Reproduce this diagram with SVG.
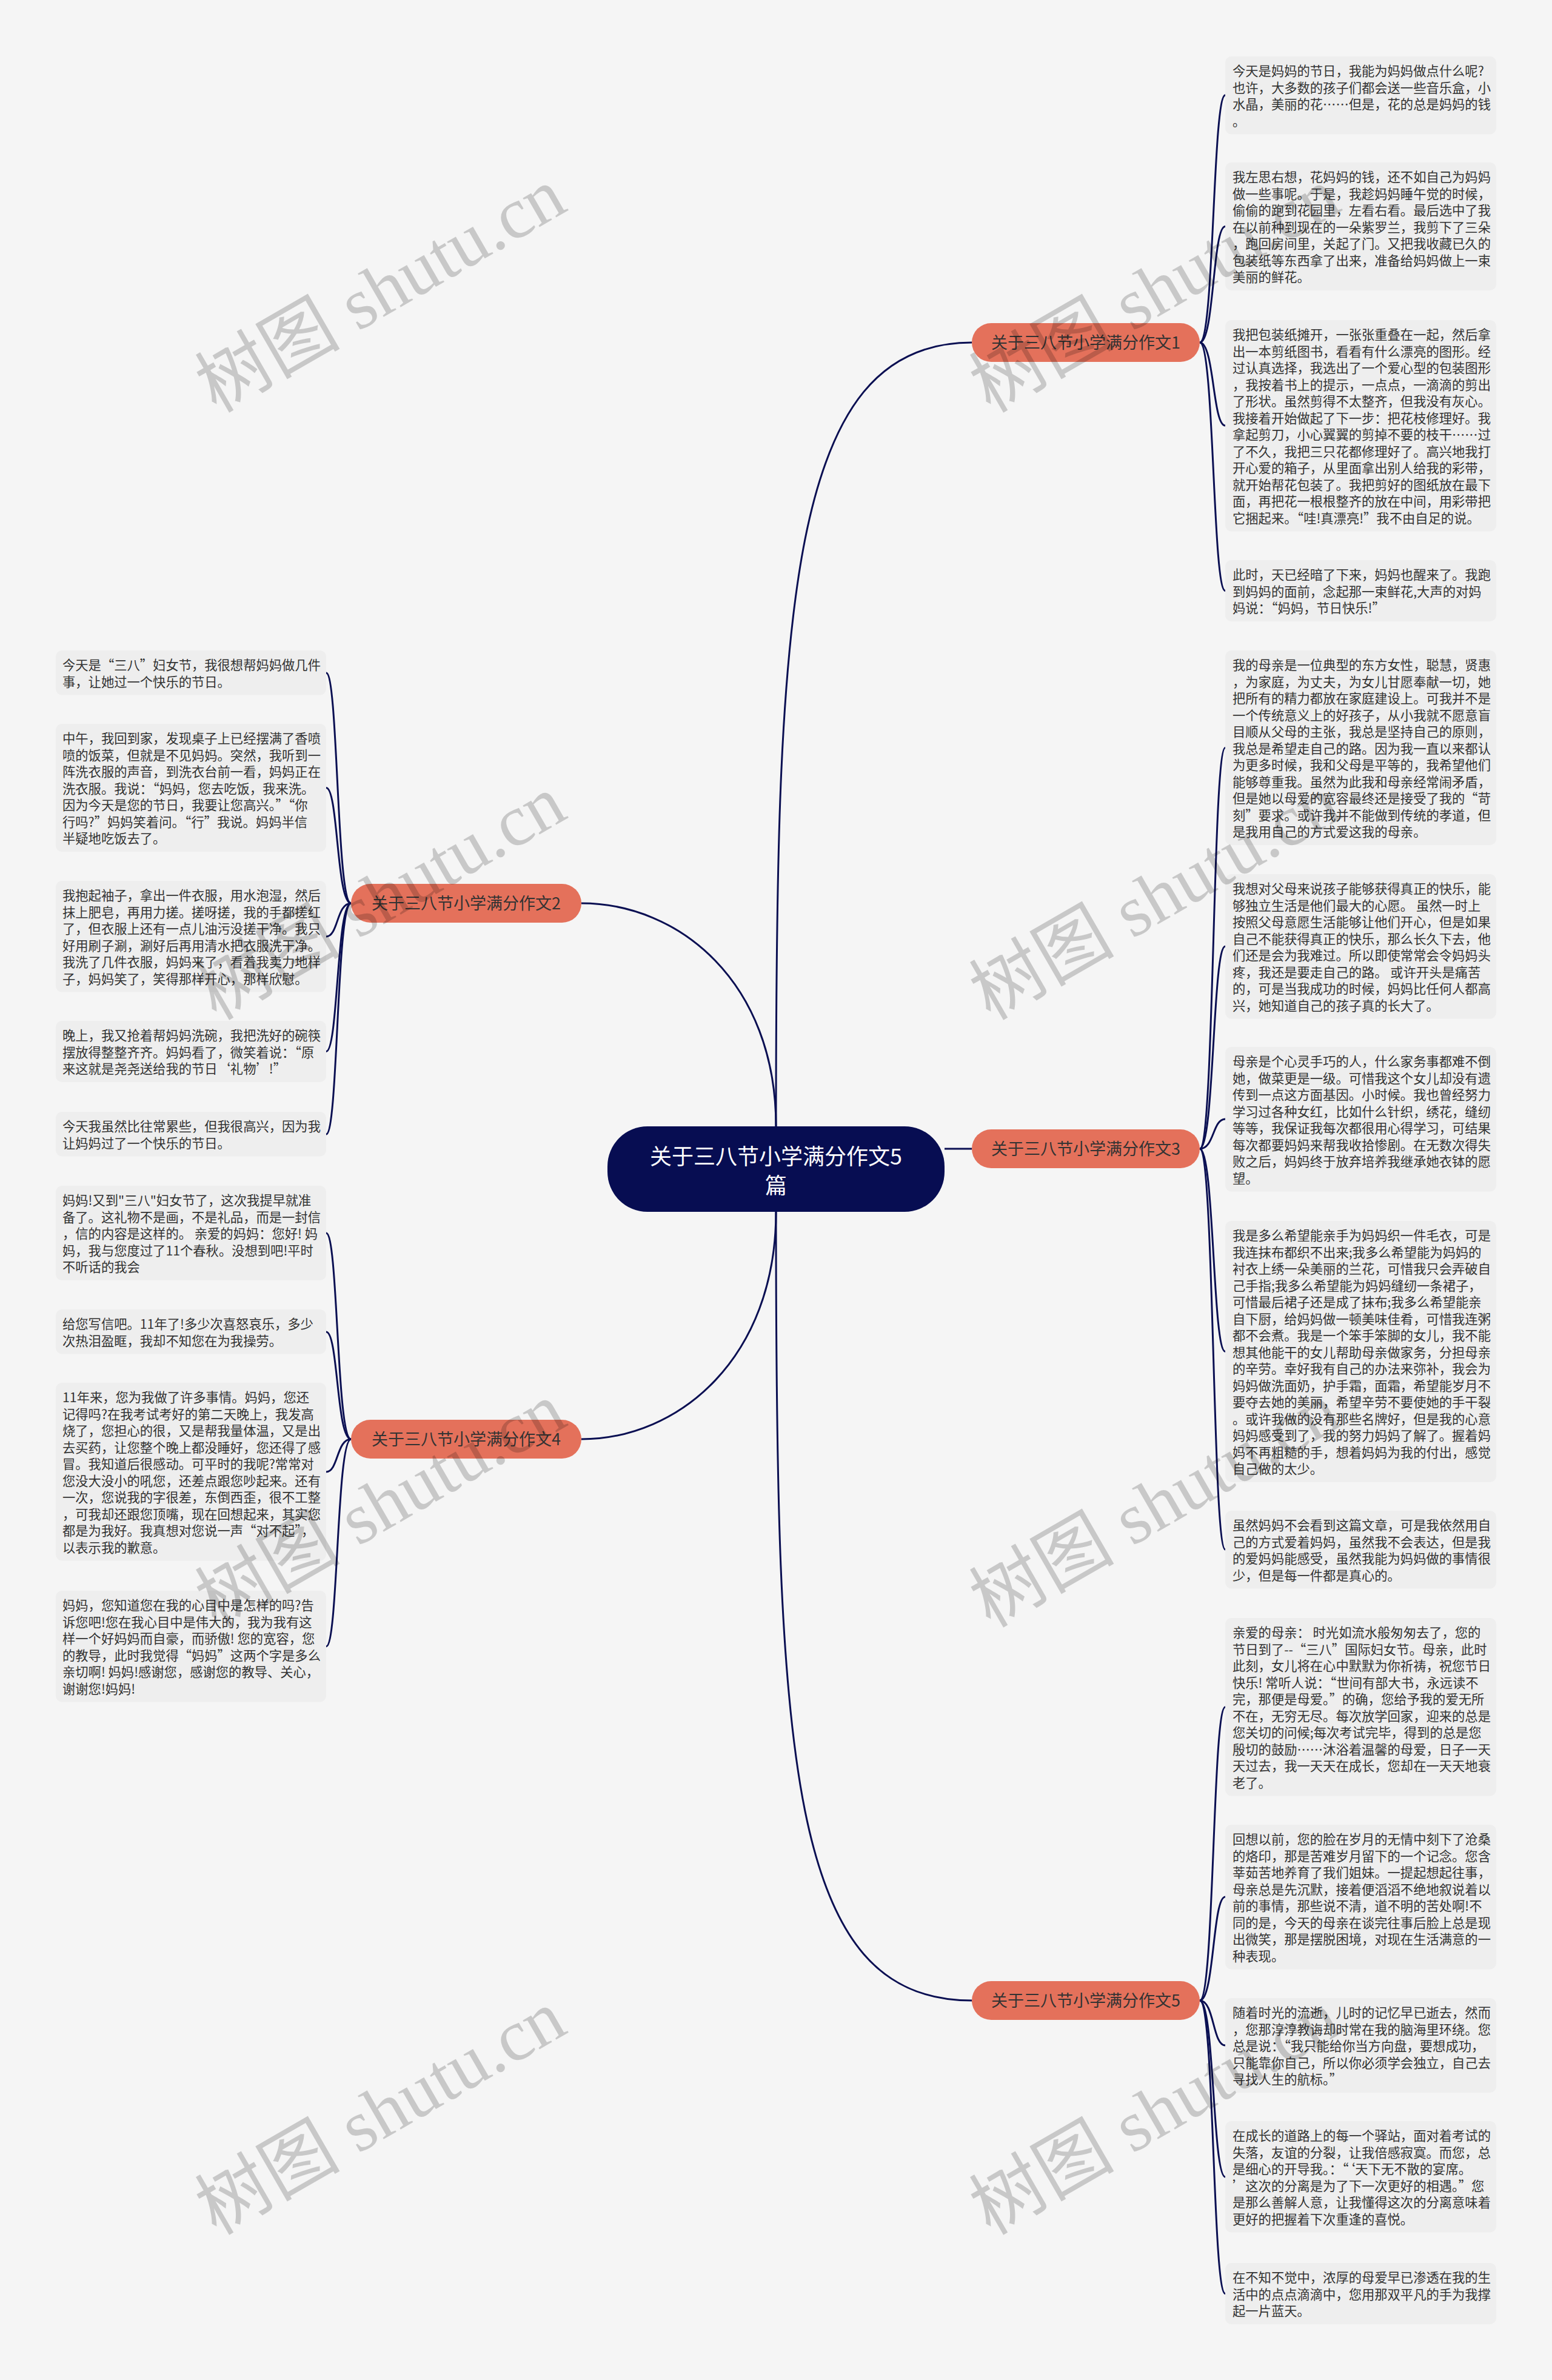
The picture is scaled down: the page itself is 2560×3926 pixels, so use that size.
<svg xmlns="http://www.w3.org/2000/svg" width="2560" height="3926" viewBox="0 0 2560 3926">
<style>
.lf{fill:#eeeeee}
.lt{font-family:"Noto Sans CJK SC","Noto Sans",sans-serif;font-size:21.3px;fill:#333333}
.br{fill:#e4715b}
.bt{font-family:"Noto Sans CJK SC","Noto Sans",sans-serif;font-size:27px;fill:#333333;text-anchor:middle}
.ct{font-family:"Noto Sans CJK SC","Noto Sans",sans-serif;font-size:36px;fill:#ffffff;text-anchor:middle}
.cn{fill:none;stroke:#0a0f52;stroke-width:3}
.wm{font-family:"Liberation Serif","Noto Sans CJK SC",serif;font-size:120px;fill:#000000;opacity:0.18}
</style>
<rect x="0" y="0" width="2560" height="3926" fill="#f5f5f5"/>

<g id="connectors">
<path class="cn" d="M1280 1858 C1280 1000 1300 565 1603 565"/>
<path class="cn" d="M1280 1858 C1280 1620 1120 1490 959 1490"/>
<path class="cn" d="M1558 1895 L1603 1895"/>
<path class="cn" d="M1280 1999 C1280 2240 1120 2374 959 2374"/>
<path class="cn" d="M1280 1999 C1280 2900 1300 3300 1603 3300"/>
<path class="cn" d="M1979 565 C2003 565 2000 157 2021 157"/>
<path class="cn" d="M1979 565 C2003 565 2000 373.5 2021 373.5"/>
<path class="cn" d="M1979 565 C2003 565 2000 702 2021 702"/>
<path class="cn" d="M1979 565 C2003 565 2000 974.5 2021 974.5"/>
<path class="cn" d="M1979 1895 C2003 1895 2000 1233.5 2021 1233.5"/>
<path class="cn" d="M1979 1895 C2003 1895 2000 1561 2021 1561"/>
<path class="cn" d="M1979 1895 C2003 1895 2000 1846 2021 1846"/>
<path class="cn" d="M1979 1895 C2003 1895 2000 2229.5 2021 2229.5"/>
<path class="cn" d="M1979 1895 C2003 1895 2000 2556 2021 2556"/>
<path class="cn" d="M1979 3300 C2003 3300 2000 2816 2021 2816"/>
<path class="cn" d="M1979 3300 C2003 3300 2000 3129 2021 3129"/>
<path class="cn" d="M1979 3300 C2003 3300 2000 3374 2021 3374"/>
<path class="cn" d="M1979 3300 C2003 3300 2000 3591 2021 3591"/>
<path class="cn" d="M1979 3300 C2003 3300 2000 3783.5 2021 3783.5"/>
<path class="cn" d="M579 1490 C555 1490 558 1110 538 1110"/>
<path class="cn" d="M579 1490 C555 1490 558 1299.5 538 1299.5"/>
<path class="cn" d="M579 1490 C555 1490 558 1545 538 1545"/>
<path class="cn" d="M579 1490 C555 1490 558 1734.5 538 1734.5"/>
<path class="cn" d="M579 1490 C555 1490 558 1871 538 1871"/>
<path class="cn" d="M579 2374 C555 2374 558 2034 538 2034"/>
<path class="cn" d="M579 2374 C555 2374 558 2197 538 2197"/>
<path class="cn" d="M579 2374 C555 2374 558 2428 538 2428"/>
<path class="cn" d="M579 2374 C555 2374 558 2716 538 2716"/>
</g>

<g id="center">
<rect x="1002" y="1858" width="556" height="141" rx="66" fill="#070d52"/>
<text class="ct" x="1280" y="1921">关于三八节小学满分作文5</text>
<text class="ct" x="1280" y="1969">篇</text>
</g>

<g id="branch1">
<rect class="br" x="1603" y="533" width="376" height="64" rx="32"/>
<text class="bt" x="1791" y="575">关于三八节小学满分作文1</text>
</g>
<g id="branch2">
<rect class="br" x="579" y="1458" width="380" height="64" rx="32"/>
<text class="bt" x="769" y="1500">关于三八节小学满分作文2</text>
</g>
<g id="branch3">
<rect class="br" x="1603" y="1863" width="376" height="64" rx="32"/>
<text class="bt" x="1791" y="1905">关于三八节小学满分作文3</text>
</g>
<g id="branch4">
<rect class="br" x="579" y="2342" width="380" height="64" rx="32"/>
<text class="bt" x="769" y="2384">关于三八节小学满分作文4</text>
</g>
<g id="branch5">
<rect class="br" x="1603" y="3268" width="376" height="64" rx="32"/>
<text class="bt" x="1791" y="3310">关于三八节小学满分作文5</text>
</g>

<g id="leaf-a1">
<rect class="lf" x="2021" y="93" width="447" height="128.5" rx="10"/>
<text class="lt" x="2033" y="125"><tspan x="2033">今天是妈妈的节日，我能为妈妈做点什么呢?</tspan><tspan x="2033" dy="27.5">也许，大多数的孩子们都会送一些音乐盒，小</tspan><tspan x="2033" dy="27.5">水晶，美丽的花……但是，花的总是妈妈的钱</tspan><tspan x="2033" dy="27.5">。</tspan></text>
</g>
<g id="leaf-a2">
<rect class="lf" x="2021" y="268" width="447" height="211" rx="10"/>
<text class="lt" x="2033" y="300"><tspan x="2033">我左思右想，花妈妈的钱，还不如自己为妈妈</tspan><tspan x="2033" dy="27.5">做一些事呢。于是，我趁妈妈睡午觉的时候，</tspan><tspan x="2033" dy="27.5">偷偷的跑到花园里，左看右看。最后选中了我</tspan><tspan x="2033" dy="27.5">在以前种到现在的一朵紫罗兰，我剪下了三朵</tspan><tspan x="2033" dy="27.5">，跑回房间里，关起了门。又把我收藏已久的</tspan><tspan x="2033" dy="27.5">包装纸等东西拿了出来，准备给妈妈做上一束</tspan><tspan x="2033" dy="27.5">美丽的鲜花。</tspan></text>
</g>
<g id="leaf-a3">
<rect class="lf" x="2021" y="528" width="447" height="348.5" rx="10"/>
<text class="lt" x="2033" y="560"><tspan x="2033">我把包装纸摊开，一张张重叠在一起，然后拿</tspan><tspan x="2033" dy="27.5">出一本剪纸图书，看看有什么漂亮的图形。经</tspan><tspan x="2033" dy="27.5">过认真选择，我选出了一个爱心型的包装图形</tspan><tspan x="2033" dy="27.5">，我按着书上的提示，一点点，一滴滴的剪出</tspan><tspan x="2033" dy="27.5">了形状。虽然剪得不太整齐，但我没有灰心。</tspan><tspan x="2033" dy="27.5">我接着开始做起了下一步：把花枝修理好。我</tspan><tspan x="2033" dy="27.5">拿起剪刀，小心翼翼的剪掉不要的枝干……过</tspan><tspan x="2033" dy="27.5">了不久，我把三只花都修理好了。高兴地我打</tspan><tspan x="2033" dy="27.5">开心爱的箱子，从里面拿出别人给我的彩带，</tspan><tspan x="2033" dy="27.5">就开始帮花包装了。我把剪好的图纸放在最下</tspan><tspan x="2033" dy="27.5">面，再把花一根根整齐的放在中间，用彩带把</tspan><tspan x="2033" dy="27.5">它捆起来。“哇!真漂亮!”我不由自足的说。</tspan></text>
</g>
<g id="leaf-a4">
<rect class="lf" x="2021" y="924" width="447" height="101" rx="10"/>
<text class="lt" x="2033" y="956"><tspan x="2033">此时，天已经暗了下来，妈妈也醒来了。我跑</tspan><tspan x="2033" dy="27.5">到妈妈的面前，念起那一束鲜花,大声的对妈</tspan><tspan x="2033" dy="27.5">妈说：“妈妈，节日快乐!”</tspan></text>
</g>

<g id="leaf-b1">
<rect class="lf" x="2021" y="1073" width="447" height="321" rx="10"/>
<text class="lt" x="2033" y="1105"><tspan x="2033">我的母亲是一位典型的东方女性，聪慧，贤惠</tspan><tspan x="2033" dy="27.5">，为家庭，为丈夫，为女儿甘愿奉献一切，她</tspan><tspan x="2033" dy="27.5">把所有的精力都放在家庭建设上。可我并不是</tspan><tspan x="2033" dy="27.5">一个传统意义上的好孩子，从小我就不愿意盲</tspan><tspan x="2033" dy="27.5">目顺从父母的主张，我总是坚持自己的原则，</tspan><tspan x="2033" dy="27.5">我总是希望走自己的路。因为我一直以来都认</tspan><tspan x="2033" dy="27.5">为更多时候，我和父母是平等的，我希望他们</tspan><tspan x="2033" dy="27.5">能够尊重我。虽然为此我和母亲经常闹矛盾，</tspan><tspan x="2033" dy="27.5">但是她以母爱的宽容最终还是接受了我的“苛</tspan><tspan x="2033" dy="27.5">刻”要求。或许我并不能做到传统的孝道，但</tspan><tspan x="2033" dy="27.5">是我用自己的方式爱这我的母亲。</tspan></text>
</g>
<g id="leaf-b2">
<rect class="lf" x="2021" y="1442" width="447" height="238.5" rx="10"/>
<text class="lt" x="2033" y="1474"><tspan x="2033">我想对父母来说孩子能够获得真正的快乐，能</tspan><tspan x="2033" dy="27.5">够独立生活是他们最大的心愿。 虽然一时上</tspan><tspan x="2033" dy="27.5">按照父母意愿生活能够让他们开心，但是如果</tspan><tspan x="2033" dy="27.5">自己不能获得真正的快乐，那么长久下去，他</tspan><tspan x="2033" dy="27.5">们还是会为我难过。所以即使常常会令妈妈头</tspan><tspan x="2033" dy="27.5">疼，我还是要走自己的路。 或许开头是痛苦</tspan><tspan x="2033" dy="27.5">的，可是当我成功的时候，妈妈比任何人都高</tspan><tspan x="2033" dy="27.5">兴，她知道自己的孩子真的长大了。</tspan></text>
</g>
<g id="leaf-b3">
<rect class="lf" x="2021" y="1727" width="447" height="238.5" rx="10"/>
<text class="lt" x="2033" y="1759"><tspan x="2033">母亲是个心灵手巧的人，什么家务事都难不倒</tspan><tspan x="2033" dy="27.5">她，做菜更是一级。可惜我这个女儿却没有遗</tspan><tspan x="2033" dy="27.5">传到一点这方面基因。小时候。我也曾经努力</tspan><tspan x="2033" dy="27.5">学习过各种女红，比如什么针织，绣花，缝纫</tspan><tspan x="2033" dy="27.5">等等，我保证我每次都很用心得学习，可结果</tspan><tspan x="2033" dy="27.5">每次都要妈妈来帮我收拾惨剧。在无数次得失</tspan><tspan x="2033" dy="27.5">败之后，妈妈终于放弃培养我继承她衣钵的愿</tspan><tspan x="2033" dy="27.5">望。</tspan></text>
</g>
<g id="leaf-b4">
<rect class="lf" x="2021" y="2014" width="447" height="431" rx="10"/>
<text class="lt" x="2033" y="2046"><tspan x="2033">我是多么希望能亲手为妈妈织一件毛衣，可是</tspan><tspan x="2033" dy="27.5">我连抹布都织不出来;我多么希望能为妈妈的</tspan><tspan x="2033" dy="27.5">衬衣上绣一朵美丽的兰花，可惜我只会弄破自</tspan><tspan x="2033" dy="27.5">己手指;我多么希望能为妈妈缝纫一条裙子，</tspan><tspan x="2033" dy="27.5">可惜最后裙子还是成了抹布;我多么希望能亲</tspan><tspan x="2033" dy="27.5">自下厨，给妈妈做一顿美味佳肴，可惜我连粥</tspan><tspan x="2033" dy="27.5">都不会煮。我是一个笨手笨脚的女儿，我不能</tspan><tspan x="2033" dy="27.5">想其他能干的女儿帮助母亲做家务，分担母亲</tspan><tspan x="2033" dy="27.5">的辛劳。幸好我有自己的办法来弥补，我会为</tspan><tspan x="2033" dy="27.5">妈妈做洗面奶，护手霜，面霜，希望能岁月不</tspan><tspan x="2033" dy="27.5">要夺去她的美丽，希望辛劳不要使她的手干裂</tspan><tspan x="2033" dy="27.5">。或许我做的没有那些名牌好，但是我的心意</tspan><tspan x="2033" dy="27.5">妈妈感受到了，我的努力妈妈了解了。握着妈</tspan><tspan x="2033" dy="27.5">妈不再粗糙的手，想着妈妈为我的付出，感觉</tspan><tspan x="2033" dy="27.5">自己做的太少。</tspan></text>
</g>
<g id="leaf-b5">
<rect class="lf" x="2021" y="2492" width="447" height="128.5" rx="10"/>
<text class="lt" x="2033" y="2524"><tspan x="2033">虽然妈妈不会看到这篇文章，可是我依然用自</tspan><tspan x="2033" dy="27.5">己的方式爱着妈妈，虽然我不会表达，但是我</tspan><tspan x="2033" dy="27.5">的爱妈妈能感受，虽然我能为妈妈做的事情很</tspan><tspan x="2033" dy="27.5">少，但是每一件都是真心的。</tspan></text>
</g>

<g id="leaf-c1">
<rect class="lf" x="2021" y="2669" width="447" height="293.5" rx="10"/>
<text class="lt" x="2033" y="2701"><tspan x="2033">亲爱的母亲： 时光如流水般匆匆去了，您的</tspan><tspan x="2033" dy="27.5">节日到了--“三八”国际妇女节。母亲，此时</tspan><tspan x="2033" dy="27.5">此刻，女儿将在心中默默为你祈祷，祝您节日</tspan><tspan x="2033" dy="27.5">快乐! 常听人说：“世间有部大书，永远读不</tspan><tspan x="2033" dy="27.5">完，那便是母爱。”的确，您给予我的爱无所</tspan><tspan x="2033" dy="27.5">不在，无穷无尽。每次放学回家，迎来的总是</tspan><tspan x="2033" dy="27.5">您关切的问候;每次考试完毕，得到的总是您</tspan><tspan x="2033" dy="27.5">殷切的鼓励……沐浴着温馨的母爱，日子一天</tspan><tspan x="2033" dy="27.5">天过去，我一天天在成长，您却在一天天地衰</tspan><tspan x="2033" dy="27.5">老了。</tspan></text>
</g>
<g id="leaf-c2">
<rect class="lf" x="2021" y="3010" width="447" height="238.5" rx="10"/>
<text class="lt" x="2033" y="3042"><tspan x="2033">回想以前，您的脸在岁月的无情中刻下了沧桑</tspan><tspan x="2033" dy="27.5">的烙印，那是苦难岁月留下的一个记念。您含</tspan><tspan x="2033" dy="27.5">莘茹苦地养育了我们姐妹。一提起想起往事，</tspan><tspan x="2033" dy="27.5">母亲总是先沉默，接着便滔滔不绝地叙说着以</tspan><tspan x="2033" dy="27.5">前的事情，那些说不清，道不明的苦处啊!不</tspan><tspan x="2033" dy="27.5">同的是，今天的母亲在谈完往事后脸上总是现</tspan><tspan x="2033" dy="27.5">出微笑，那是摆脱困境，对现在生活满意的一</tspan><tspan x="2033" dy="27.5">种表现。</tspan></text>
</g>
<g id="leaf-c3">
<rect class="lf" x="2021" y="3296" width="447" height="156" rx="10"/>
<text class="lt" x="2033" y="3328"><tspan x="2033">随着时光的流逝，儿时的记忆早已逝去，然而</tspan><tspan x="2033" dy="27.5">，您那淳淳教诲却时常在我的脑海里环绕。您</tspan><tspan x="2033" dy="27.5">总是说：“我只能给你当方向盘，要想成功，</tspan><tspan x="2033" dy="27.5">只能靠你自己，所以你必须学会独立，自己去</tspan><tspan x="2033" dy="27.5">寻找人生的航标。”</tspan></text>
</g>
<g id="leaf-c4">
<rect class="lf" x="2021" y="3499" width="447" height="183.5" rx="10"/>
<text class="lt" x="2033" y="3531"><tspan x="2033">在成长的道路上的每一个驿站，面对着考试的</tspan><tspan x="2033" dy="27.5">失落，友谊的分裂，让我倍感寂寞。而您，总</tspan><tspan x="2033" dy="27.5">是细心的开导我。：“‘天下无不散的宴席。</tspan><tspan x="2033" dy="27.5">’这次的分离是为了下一次更好的相遇。”您</tspan><tspan x="2033" dy="27.5">是那么善解人意，让我懂得这次的分离意味着</tspan><tspan x="2033" dy="27.5">更好的把握着下次重逢的喜悦。</tspan></text>
</g>
<g id="leaf-c5">
<rect class="lf" x="2021" y="3733" width="447" height="101" rx="10"/>
<text class="lt" x="2033" y="3765"><tspan x="2033">在不知不觉中，浓厚的母爱早已渗透在我的生</tspan><tspan x="2033" dy="27.5">活中的点点滴滴中，您用那双平凡的手为我撑</tspan><tspan x="2033" dy="27.5">起一片蓝天。</tspan></text>
</g>

<g id="leaf-d1">
<rect class="lf" x="92" y="1073" width="446" height="73.5" rx="10"/>
<text class="lt" x="103" y="1105"><tspan x="103">今天是“三八”妇女节，我很想帮妈妈做几件</tspan><tspan x="103" dy="27.5">事，让她过一个快乐的节日。</tspan></text>
</g>
<g id="leaf-d2">
<rect class="lf" x="92" y="1194" width="446" height="211" rx="10"/>
<text class="lt" x="103" y="1226"><tspan x="103">中午，我回到家，发现桌子上已经摆满了香喷</tspan><tspan x="103" dy="27.5">喷的饭菜，但就是不见妈妈。突然，我听到一</tspan><tspan x="103" dy="27.5">阵洗衣服的声音，到洗衣台前一看，妈妈正在</tspan><tspan x="103" dy="27.5">洗衣服。我说：“妈妈，您去吃饭，我来洗。</tspan><tspan x="103" dy="27.5">因为今天是您的节日，我要让您高兴。”“你</tspan><tspan x="103" dy="27.5">行吗?”妈妈笑着问。“行”我说。妈妈半信</tspan><tspan x="103" dy="27.5">半疑地吃饭去了。</tspan></text>
</g>
<g id="leaf-d3">
<rect class="lf" x="92" y="1453" width="446" height="183.5" rx="10"/>
<text class="lt" x="103" y="1485"><tspan x="103">我抱起袖子，拿出一件衣服，用水泡湿，然后</tspan><tspan x="103" dy="27.5">抹上肥皂，再用力搓。搓呀搓，我的手都搓红</tspan><tspan x="103" dy="27.5">了，但衣服上还有一点儿油污没搓干净。我只</tspan><tspan x="103" dy="27.5">好用刷子涮，涮好后再用清水把衣服洗干净。</tspan><tspan x="103" dy="27.5">我洗了几件衣服，妈妈来了，看着我卖力地样</tspan><tspan x="103" dy="27.5">子，妈妈笑了，笑得那样开心，那样欣慰。</tspan></text>
</g>
<g id="leaf-d4">
<rect class="lf" x="92" y="1684" width="446" height="101" rx="10"/>
<text class="lt" x="103" y="1716"><tspan x="103">晚上，我又抢着帮妈妈洗碗，我把洗好的碗筷</tspan><tspan x="103" dy="27.5">摆放得整整齐齐。妈妈看了，微笑着说：“原</tspan><tspan x="103" dy="27.5">来这就是尧尧送给我的节日‘礼物’!”</tspan></text>
</g>
<g id="leaf-d5">
<rect class="lf" x="92" y="1834" width="446" height="73.5" rx="10"/>
<text class="lt" x="103" y="1866"><tspan x="103">今天我虽然比往常累些，但我很高兴，因为我</tspan><tspan x="103" dy="27.5">让妈妈过了一个快乐的节日。</tspan></text>
</g>

<g id="leaf-e1">
<rect class="lf" x="92" y="1956" width="446" height="156" rx="10"/>
<text class="lt" x="103" y="1988"><tspan x="103">妈妈!又到"三八"妇女节了，这次我提早就准</tspan><tspan x="103" dy="27.5">备了。这礼物不是画，不是礼品，而是一封信</tspan><tspan x="103" dy="27.5">，信的内容是这样的。 亲爱的妈妈：您好! 妈</tspan><tspan x="103" dy="27.5">妈，我与您度过了11个春秋。没想到吧!平时</tspan><tspan x="103" dy="27.5">不听话的我会</tspan></text>
</g>
<g id="leaf-e2">
<rect class="lf" x="92" y="2160" width="446" height="73.5" rx="10"/>
<text class="lt" x="103" y="2192"><tspan x="103">给您写信吧。11年了!多少次喜怒哀乐，多少</tspan><tspan x="103" dy="27.5">次热泪盈眶，我却不知您在为我操劳。</tspan></text>
</g>
<g id="leaf-e3">
<rect class="lf" x="92" y="2281" width="446" height="293.5" rx="10"/>
<text class="lt" x="103" y="2313"><tspan x="103">11年来，您为我做了许多事情。妈妈，您还</tspan><tspan x="103" dy="27.5">记得吗?在我考试考好的第二天晚上，我发高</tspan><tspan x="103" dy="27.5">烧了，您担心的很，又是帮我量体温，又是出</tspan><tspan x="103" dy="27.5">去买药，让您整个晚上都没睡好，您还得了感</tspan><tspan x="103" dy="27.5">冒。我知道后很感动。可平时的我呢?常常对</tspan><tspan x="103" dy="27.5">您没大没小的吼您，还差点跟您吵起来。还有</tspan><tspan x="103" dy="27.5">一次，您说我的字很差，东倒西歪，很不工整</tspan><tspan x="103" dy="27.5">，可我却还跟您顶嘴，现在回想起来，其实您</tspan><tspan x="103" dy="27.5">都是为我好。我真想对您说一声“对不起”，</tspan><tspan x="103" dy="27.5">以表示我的歉意。</tspan></text>
</g>
<g id="leaf-e4">
<rect class="lf" x="92" y="2624" width="446" height="183.5" rx="10"/>
<text class="lt" x="103" y="2656"><tspan x="103">妈妈，您知道您在我的心目中是怎样的吗?告</tspan><tspan x="103" dy="27.5">诉您吧!您在我心目中是伟大的，我为我有这</tspan><tspan x="103" dy="27.5">样一个好妈妈而自豪，而骄傲! 您的宽容，您</tspan><tspan x="103" dy="27.5">的教导，此时我觉得“妈妈”这两个字是多么</tspan><tspan x="103" dy="27.5">亲切啊! 妈妈!感谢您，感谢您的教导、关心，</tspan><tspan x="103" dy="27.5">谢谢您!妈妈!</tspan></text>
</g>

<g id="watermarks">
<text class="wm" text-anchor="middle" transform="translate(648 514) rotate(-30)">树图 shutu.cn</text>
<text class="wm" text-anchor="middle" transform="translate(1925 514) rotate(-30)">树图 shutu.cn</text>
<text class="wm" text-anchor="middle" transform="translate(648 1516) rotate(-30)">树图 shutu.cn</text>
<text class="wm" text-anchor="middle" transform="translate(1925 1516) rotate(-30)">树图 shutu.cn</text>
<text class="wm" text-anchor="middle" transform="translate(648 2518) rotate(-30)">树图 shutu.cn</text>
<text class="wm" text-anchor="middle" transform="translate(1925 2518) rotate(-30)">树图 shutu.cn</text>
<text class="wm" text-anchor="middle" transform="translate(648 3520) rotate(-30)">树图 shutu.cn</text>
<text class="wm" text-anchor="middle" transform="translate(1925 3520) rotate(-30)">树图 shutu.cn</text>
</g>
</svg>
